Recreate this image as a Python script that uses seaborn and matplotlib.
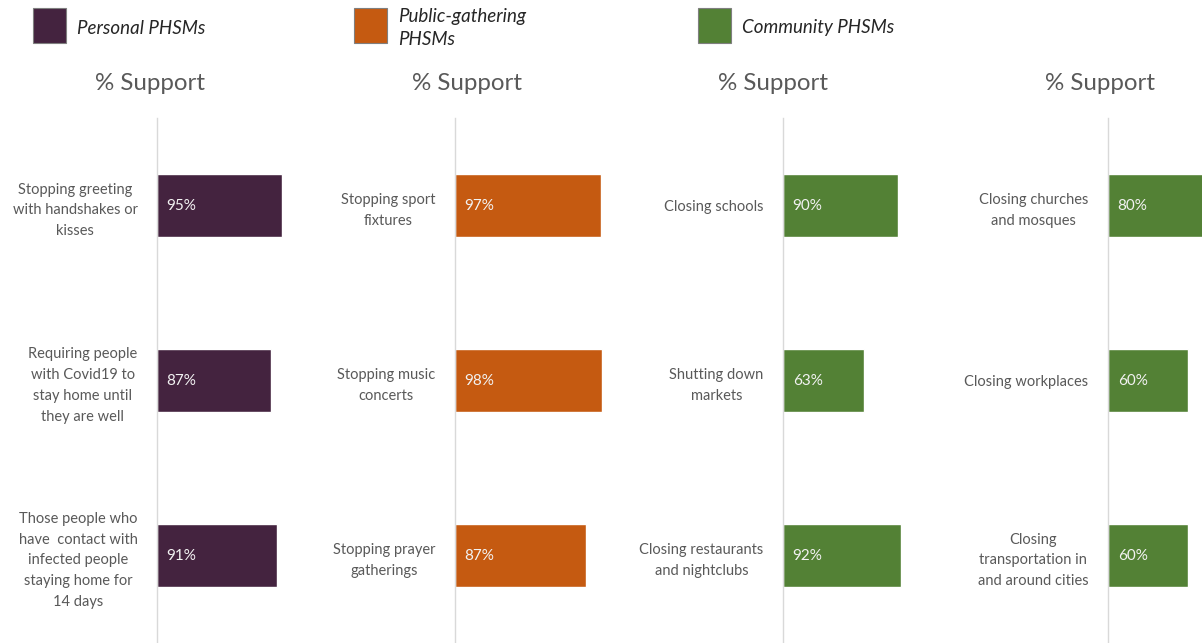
import matplotlib
matplotlib.use("Agg")
import matplotlib.pyplot as plt
from matplotlib.patches import Rectangle
import pandas as pd
import seaborn as sns

sns.set_theme(style="white")
plt.rcParams["font.family"] = ["Lato", "DejaVu Sans"]

# Survey support per measure, grouped into four panels
personal_labels = ["Stopping greeting\nwith handshakes or\nkisses",
                   "Requiring people\nwith Covid19 to\nstay home until\nthey are well",
                   "Those people who\nhave  contact with\ninfected people\nstaying home for\n14 days"]
personal_values = [95, 87, 91]

gathering_labels = ["Stopping sport\nfixtures", "Stopping music\nconcerts", "Stopping prayer\ngatherings"]
gathering_values = [97, 98, 87]

community_a_labels = ["Closing schools", "Shutting down\nmarkets", "Closing restaurants\nand nightclubs"]
community_a_values = [90, 63, 92]

community_b_labels = ["Closing churches\nand mosques", "Closing workplaces",
                      "Closing\ntransportation in\nand around cities"]
community_b_values = [80, 60, 60]

legend_names = ["Personal PHSMs", "Public-gathering\nPHSMs", "Community PHSMs"]
panel_title = "% Support"

PURPLE = "#44233F"
ORANGE = "#C55A11"
GREEN = "#538135"
LABEL_GREY = "#595959"

W, H = 1202, 643
fig = plt.figure(figsize=(W / 100, H / 100), dpi=100)

panels = [
    (personal_labels, personal_values, PURPLE, 157, 131.6, 150),
    (gathering_labels, gathering_values, ORANGE, 455, 150.5, 467),
    (community_a_labels, community_a_values, GREEN, 783, 127.8, 773),
    (community_b_labels, community_b_values, GREEN, 1108, 133.0, 1100),
]

top_px = 118
for labels, values, color, left_px, width_px, title_x in panels:
    ax = fig.add_axes([left_px / W, 0, width_px / W, (H - top_px) / H])
    df = pd.DataFrame({"measure": labels, "support": values})
    sns.barplot(data=df, x="support", y="measure", color=color, orient="h",
                width=0.355, saturation=1, ax=ax)
    ax.set_xlim(0, 100)
    ax.set_ylim(2.5, -0.5)
    ax.set_xlabel("")
    ax.set_ylabel("")
    ax.set_xticks([])
    for s in ["top", "right", "bottom"]:
        ax.spines[s].set_visible(False)
    ax.spines["left"].set_color("#D9D9D9")
    ax.spines["left"].set_linewidth(1.0)
    ax.tick_params(axis="y", length=0, pad=14)
    for t in ax.get_yticklabels():
        t.set_multialignment("center")
        t.set_fontsize(10.5)
        t.set_color(LABEL_GREY)
        t.set_linespacing(1.62)
    for i, v in enumerate(values):
        ax.annotate(f"{v}%", xy=(0, i), xytext=(7, 0), textcoords="offset points",
                    va="center", ha="left", fontsize=11, color="#F2F2F2")
    fig.text(title_x / W, 1 - 84 / H, panel_title, ha="center", va="center",
             fontsize=17.4, color=LABEL_GREY)

# Legend swatches and names across the top
legend_items = [(33, PURPLE, 77), (354, ORANGE, 398), (698, GREEN, 742)]
for (sx, col, tx), name in zip(legend_items, legend_names):
    fig.patches.append(Rectangle((sx / W, 1 - 43 / H), 33 / W, 35 / H,
                                 transform=fig.transFigure, facecolor=col,
                                 edgecolor="#7F7F7F", linewidth=0.8))
    fig.text(tx / W, 1 - 28 / H, name, ha="left", va="center", fontsize=13.5,
             style="italic", color="#262626", linespacing=1.45)

fig.savefig("out.png", dpi=100)
